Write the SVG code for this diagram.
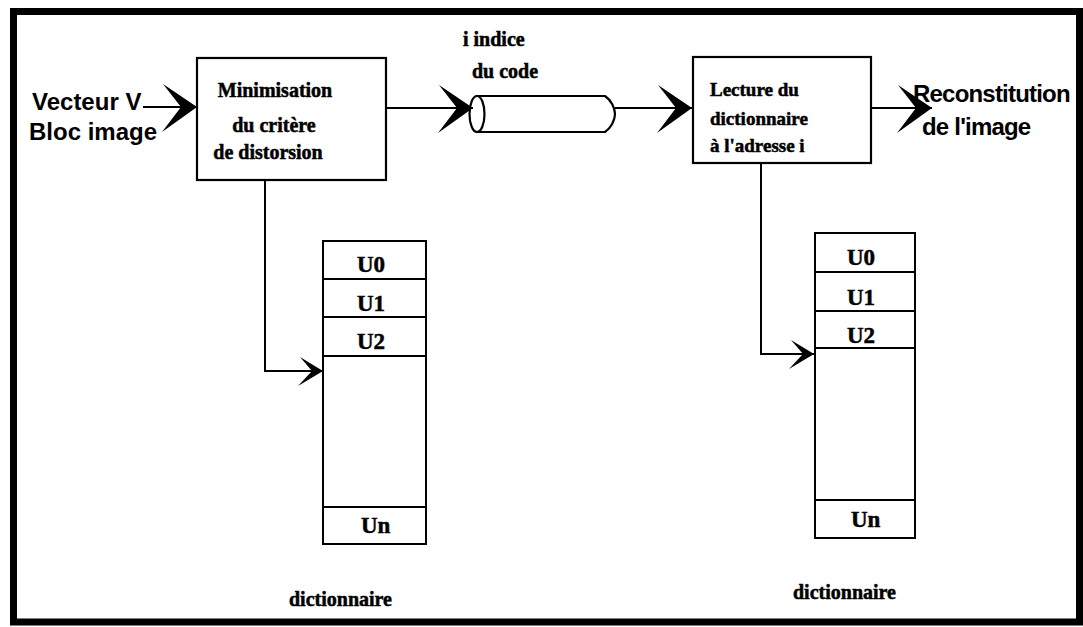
<svg xmlns="http://www.w3.org/2000/svg" width="1083" height="627" viewBox="0 0 1083 627">
<style>
.frame{fill:none;stroke:#000;stroke-width:7}
.box{fill:#fff;stroke:#000;stroke-width:2.2}
.cell{fill:none;stroke:#000;stroke-width:2}
.conn{fill:none;stroke:#000;stroke-width:2}
.serif{font-family:"Liberation Serif","Times New Roman",serif;font-weight:bold;fill:#000;stroke:#000;stroke-width:0.5}
.sans{font-family:"Liberation Sans",Arial,sans-serif;font-weight:bold;fill:#000;font-size:24px}
</style>
<defs>
<marker id="big" markerUnits="userSpaceOnUse" viewBox="-38 -28 40 56" refX="0" refY="0" markerWidth="40" markerHeight="56" orient="auto">
<path d="M0,0 L-34,-23 L-16,0 L-35,25 Z" fill="#000"/>
</marker>
<marker id="small" markerUnits="userSpaceOnUse" viewBox="-28 -18 30 36" refX="0" refY="0" markerWidth="30" markerHeight="36" orient="auto">
<path d="M0,0 L-23,-14 L-11,0 L-25,15 Z" fill="#000"/>
</marker>
</defs>
<rect width="1083" height="627" fill="#fff"/>
<rect class="frame" x="13.5" y="11.5" width="1066" height="610.5"/>

<g id="input">
<text class="sans" x="32" y="110">Vecteur V</text>
<text class="sans" x="29" y="140">Bloc image</text>
</g>

<g id="minimisation">
<rect class="box" x="197" y="58" width="189" height="122"/>
<text class="serif" font-size="20" text-anchor="middle" x="275" y="97">Minimisation</text>
<text class="serif" font-size="20" text-anchor="middle" x="274" y="132">du critère</text>
<text class="serif" font-size="20" text-anchor="middle" x="268" y="159">de distorsion</text>
</g>

<g id="canal">
<path class="box" d="M477,96 H605 C611,100 615,108 615,114 C615,120 611,128 605,132 H477 Z"/>
<ellipse class="box" cx="477" cy="114" rx="7.5" ry="18"/>
<text class="serif" font-size="20" x="463" y="46">i indice</text>
<text class="serif" font-size="20" x="472" y="78">du code</text>
</g>

<g id="lecture">
<rect class="box" x="693" y="57" width="178" height="106"/>
<text class="serif" font-size="19" x="710" y="96">Lecture du</text>
<text class="serif" font-size="19" x="710" y="125">dictionnaire</text>
<text class="serif" font-size="19" x="710" y="152">à l'adresse i</text>
</g>

<g id="output">
<text class="sans" x="913" y="102" letter-spacing="-0.8">Reconstitution</text>
<text class="sans" x="922" y="135" letter-spacing="-0.8">de l'image</text>
</g>

<g id="dict1">
<rect class="cell" x="323" y="241" width="103" height="303"/>
<line class="cell" x1="323" y1="279" x2="426" y2="279"/>
<line class="cell" x1="323" y1="317" x2="426" y2="317"/>
<line class="cell" x1="323" y1="356" x2="426" y2="356"/>
<line class="cell" x1="323" y1="507" x2="426" y2="507"/>
<text class="serif" font-size="23" x="357" y="272">U0</text>
<text class="serif" font-size="23" x="357" y="311">U1</text>
<text class="serif" font-size="23" x="357" y="349">U2</text>
<text class="serif" font-size="23" x="361" y="533">Un</text>
<text class="serif" font-size="20" x="289" y="606">dictionnaire</text>
</g>

<g id="dict2">
<rect class="cell" x="815" y="233" width="100" height="305"/>
<line class="cell" x1="815" y1="272" x2="915" y2="272"/>
<line class="cell" x1="815" y1="311" x2="915" y2="311"/>
<line class="cell" x1="815" y1="348" x2="915" y2="348"/>
<line class="cell" x1="815" y1="500" x2="915" y2="500"/>
<text class="serif" font-size="23" x="847" y="265">U0</text>
<text class="serif" font-size="23" x="847" y="305">U1</text>
<text class="serif" font-size="23" x="847" y="343">U2</text>
<text class="serif" font-size="23" x="851" y="527">Un</text>
<text class="serif" font-size="20" x="793" y="599">dictionnaire</text>
</g>

<g id="connectors">
<line class="conn" x1="143" y1="107" x2="197" y2="107" marker-end="url(#big)"/>
<line class="conn" x1="386" y1="108" x2="473" y2="108" marker-end="url(#big)"/>
<line class="conn" x1="615" y1="108" x2="692" y2="108" marker-end="url(#big)"/>
<line class="conn" x1="871" y1="108" x2="932" y2="108" marker-end="url(#big)"/>
<path class="conn" d="M265,180 V371 H323" marker-end="url(#small)"/>
<path class="conn" d="M761,163 V354 H814" marker-end="url(#small)"/>
</g>
</svg>
